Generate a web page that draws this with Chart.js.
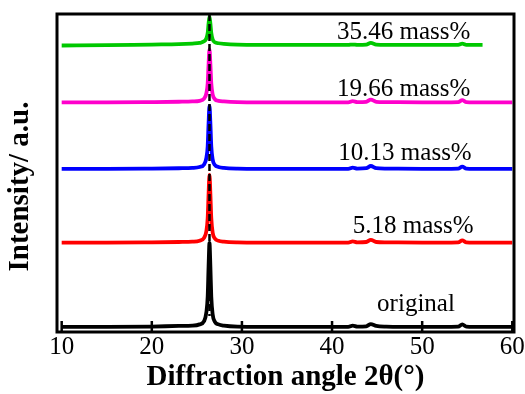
<!DOCTYPE html>
<html>
<head>
<meta charset="utf-8">
<script src="https://cdn.jsdelivr.net/npm/chart.js@4/dist/chart.umd.min.js"></script>
<style>
  html, body { margin: 0; padding: 0; background: #fff; }
  canvas { display: block; }
</style>
</head>
<body>
<canvas id="xrd" width="525" height="394"></canvas>
<script>
// 2theta positions (deg) shared by all traces
const twoTheta = [10, 15, 20, 23, 24.5, 25.3, 25.8, 26.05, 26.2, 26.3, 26.4, 26.5, 26.6, 26.75, 27.0, 27.4, 28.0, 29.5, 35, 41.8, 42.3, 42.8, 43.8, 44.3, 44.9, 46, 50, 54.0, 54.45, 54.9, 56.7, 60];

// stacked intensities (a.u.)
const original = [1.6, 1.6, 1.7, 1.9, 2.0, 2.4, 3.4, 6.1, 11.1, 20.6, 28.0, 20.6, 11.1, 5.6, 3.2, 2.4, 2.0, 1.7, 1.6, 1.6, 2.0, 1.7, 1.8, 2.5, 1.9, 1.7, 1.6, 1.7, 2.4, 1.7, 1.6, 1.6];
const mass518 = [28.1, 28.1, 28.2, 28.3, 28.4, 28.7, 29.6, 31.7, 35.8, 43.4, 49.4, 43.4, 35.8, 31.3, 29.4, 28.7, 28.4, 28.2, 28.1, 28.1, 28.5, 28.2, 28.3, 29.0, 28.3, 28.2, 28.1, 28.2, 28.8, 28.2, 28.1, 28.1];
const mass1013 = [51.3, 51.3, 51.4, 51.5, 51.6, 51.9, 52.7, 54.7, 58.4, 65.6, 71.1, 65.6, 58.4, 54.3, 52.5, 51.9, 51.6, 51.4, 51.3, 51.3, 51.7, 51.4, 51.5, 52.2, 51.5, 51.4, 51.3, 51.4, 52.0, 51.4, 51.3, 51.3];
const mass1966 = [72.2, 72.2, 72.3, 72.4, 72.5, 72.7, 73.4, 75.0, 78.2, 84.2, 88.9, 84.2, 78.2, 74.7, 73.2, 72.7, 72.5, 72.3, 72.2, 72.2, 72.6, 72.3, 72.4, 73.1, 72.4, 72.3, 72.2, 72.3, 72.9, 72.3, 72.2, 72.2];
const mass3546 = [90.1, 90.2, 90.4, 90.5, 90.7, 90.9, 91.4, 92.3, 94.0, 97.0, 99.2, 97.0, 94.0, 92.0, 91.1, 90.8, 90.6, 90.4, 90.3, 90.3, 90.4, 90.3, 90.4, 90.9, 90.4, 90.3, 90.3, 90.3, 90.7, 90.3, 90.3, null];

// dashed guide at the main peak
const guideX = [26.4, 26.4];
const guideY = [100, 5];

const xTicks = [10, 20, 30, 40, 50, 60];
const traceLabels = ['original', '5.18 mass%', '10.13 mass%', '19.66 mass%', '35.46 mass%'];
const traceColors = ['#000000', '#ff0000', '#0000ff', '#ff00cc', '#00c800'];

const toPoints = (xs, ys) => xs.map((x, i) => ({ x: x, y: ys[i] }));

const traces = [original, mass518, mass1013, mass1966, mass3546];

const datasets = traces.map((ys, i) => ({
    label: traceLabels[i],
    data: toPoints(twoTheta, ys),
    borderColor: traceColors[i],
    borderWidth: 3.8,
    pointRadius: 0,
    cubicInterpolationMode: 'monotone',
    order: 1,
}));

datasets.push({
    label: 'guide',
    data: toPoints(guideX, guideY),
    borderColor: '#000',
    borderWidth: 2.5,
    borderDash: [7, 3],
    pointRadius: 0,
    order: 0,
});

// where the trace labels sit (data units: left edge, text baseline)
const labelPos = [[45.0, 6.6], [42.3, 31.1], [40.7, 54.1], [40.55, 74.2], [40.55, 92.1]];

const serif = "'Liberation Serif', 'Times New Roman', serif";

// frame, inward ticks, trace labels and y title
const decor = {
    id: 'decor',
    afterDatasetsDraw(chart) {
        const { ctx, chartArea: a, scales } = chart;
        const xs = scales.x, ys = scales.y;
        ctx.save();
        ctx.strokeStyle = '#000';
        ctx.lineWidth = 2.5;
        xTicks.forEach(v => {
            const px = xs.getPixelForValue(v);
            ctx.beginPath();
            ctx.moveTo(px, a.bottom);
            ctx.lineTo(px, a.bottom - 11);
            ctx.stroke();
        });
        ctx.lineWidth = 3;
        ctx.strokeRect(a.left, a.top, a.right - a.left, a.bottom - a.top);

        ctx.fillStyle = '#000';
        ctx.font = '25px ' + serif;
        ctx.textAlign = 'left';
        ctx.textBaseline = 'alphabetic';
        traceLabels.forEach((t, i) => {
            ctx.fillText(t, xs.getPixelForValue(labelPos[i][0]), ys.getPixelForValue(labelPos[i][1]));
        });

        ctx.font = 'bold 29px ' + serif;
        ctx.textAlign = 'center';
        ctx.textBaseline = 'middle';
        ctx.translate(21, 186.5);
        ctx.rotate(-Math.PI / 2);
        ctx.fillText('Intensity/ a.u.', 0, 0);
        ctx.restore();
    }
};

new Chart(document.getElementById('xrd'), {
    type: 'line',
    data: { datasets: datasets },
    options: {
        responsive: false,
        animation: false,
        devicePixelRatio: 1,
        layout: { padding: { left: 57, top: 14, right: 11, bottom: 0 } },
        plugins: { legend: { display: false }, tooltip: { enabled: false } },
        scales: {
            x: {
                type: 'linear',
                min: 9.48,
                max: 60.19,
                grid: { display: false, drawTicks: false },
                border: { display: false },
                ticks: {
                    stepSize: 10,
                    includeBounds: false,
                    padding: 0,
                    color: '#000',
                    font: { family: serif, size: 25 },
                },
                title: {
                    display: true,
                    text: 'Diffraction angle 2θ(°)',
                    color: '#000',
                    font: { family: serif, size: 29, weight: 'bold', lineHeight: 1 },
                    padding: { top: 0, bottom: 1.5 },
                },
                afterFit(scale) { scale.height = 62; },
            },
            y: {
                display: false,
                min: 0,
                max: 100,
            },
        },
    },
    plugins: [decor],
});
</script>
</body>
</html>
